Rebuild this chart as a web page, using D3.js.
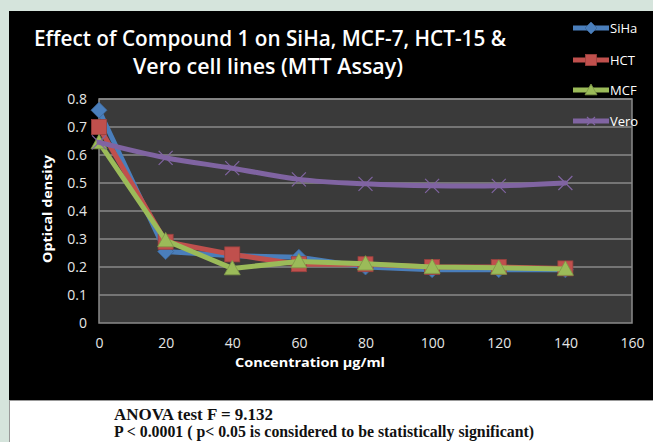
<!DOCTYPE html>
<html>
<head>
<meta charset="utf-8">
<script src="https://cdn.jsdelivr.net/npm/d3@7"></script>
<style>
  body { margin: 0; background: #d5e4dc; }
  svg { display: block; }
</style>
</head>
<body>
<div id="chart"></div>
<script>
// concentrations (µg/ml)
var conc = [0, 20, 40, 60, 80, 100, 120, 140];
var siha = [0.76, 0.255, 0.24, 0.235, 0.2, 0.19, 0.19, 0.19];
var hct  = [0.70, 0.29, 0.245, 0.21, 0.21, 0.2, 0.2, 0.195];
var mcf  = [0.645, 0.295, 0.195, 0.22, 0.212, 0.2, 0.197, 0.193];
var vero = [0.645, 0.59, 0.553, 0.513, 0.497, 0.49, 0.49, 0.5];
var xTicks = [0, 20, 40, 60, 80, 100, 120, 140, 160];
var yTicks = [0, 0.1, 0.2, 0.3, 0.4, 0.5, 0.6, 0.7, 0.8];

var series = [
  {name: "SiHa", values: siha, color: "#4a7ebb", marker: "diamond"},
  {name: "HCT", values: hct, color: "#c0504d", marker: "square"},
  {name: "MCF", values: mcf, color: "#9bbb59", marker: "triangle"},
  {name: "Vero", values: vero, color: "#8064a2", marker: "cross", smooth: true}
];

var W = 653, H = 442;
var svg = d3.select("#chart").append("svg").attr("width", W).attr("height", H);

svg.append("rect").attr("width", W).attr("height", H).attr("fill", "#d5e4dc");
svg.append("rect").attr("x", 9).attr("y", 11).attr("width", W - 9).attr("height", 389).attr("fill", "#000");
svg.append("rect").attr("x", 9.5).attr("y", 400.5).attr("width", W - 9).attr("height", 42)
  .attr("fill", "#fff").attr("stroke", "#999").attr("stroke-width", 1);

var x = d3.scaleLinear().domain([0, 160]).range([99, 632]);
var y = d3.scaleLinear().domain([0, 0.8]).range([323, 99]);

// plot area
svg.append("rect").attr("x", x(0)).attr("y", y(0.8))
  .attr("width", x(160) - x(0)).attr("height", y(0) - y(0.8))
  .attr("fill", "#3a3a3a").attr("stroke", "#8a8a8a").attr("stroke-width", 1.5);

svg.append("g").selectAll("line").data(yTicks.slice(1)).join("line")
  .attr("x1", x(0)).attr("x2", x(160))
  .attr("y1", function(d){ return y(d); }).attr("y2", function(d){ return y(d); })
  .attr("stroke", "#8a8a8a").attr("stroke-width", 1.5);

// axes (labels only, Excel style)
var yAxis = svg.append("g").attr("transform", "translate(" + x(0) + ",0)")
  .call(d3.axisLeft(y).tickValues(yTicks).tickSize(0).tickPadding(12).tickFormat(d3.format("")));
var xAxis = svg.append("g").attr("transform", "translate(0," + y(0) + ")")
  .call(d3.axisBottom(x).tickValues(xTicks).tickSize(0).tickPadding(15));
[yAxis, xAxis].forEach(function(a){
  a.select(".domain").remove();
  a.selectAll("text").attr("fill", "#e6e6e6").style("font-family", "'Open Sans', sans-serif").style("font-size", "14px");
});

// title
var title = svg.append("g").attr("fill", "#fff")
  .style("font-family", "'Open Sans', sans-serif").style("font-size", "22px").style("font-weight", "600");
title.append("text").attr("x", 270).attr("y", 46).attr("text-anchor", "middle")
  .attr("textLength", 472).attr("lengthAdjust", "spacingAndGlyphs")
  .text("Effect of Compound  1 on SiHa, MCF-7, HCT-15 &");
title.append("text").attr("x", 268).attr("y", 74).attr("text-anchor", "middle")
  .attr("textLength", 270).attr("lengthAdjust", "spacingAndGlyphs")
  .text("Vero cell lines (MTT Assay)");

// axis titles
svg.append("text").attr("transform", "translate(52,209) rotate(-90)")
  .attr("text-anchor", "middle").attr("fill", "#fff")
  .style("font-family", "'Open Sans', sans-serif").style("font-size", "13px").style("font-weight", "bold")
  .attr("textLength", 108).attr("lengthAdjust", "spacingAndGlyphs")
  .text("Optical density");
svg.append("text").attr("x", 310).attr("y", 367).attr("text-anchor", "middle").attr("fill", "#fff")
  .style("font-family", "'Open Sans', sans-serif").style("font-size", "13px").style("font-weight", "bold")
  .attr("textLength", 150).attr("lengthAdjust", "spacingAndGlyphs")
  .text("Concentration µg/ml");

function drawMarker(g, type, color, size) {
  var s = size / 2;
  if (type == "diamond") {
    g.append("path").attr("d", "M0," + (-s) + "L" + s + ",0L0," + s + "L" + (-s) + ",0Z")
      .attr("fill", color).attr("stroke", d3.color(color).darker(0.6)).attr("stroke-width", 0.8);
  } else if (type == "square") {
    g.append("rect").attr("x", -s + 0.5).attr("y", -s + 0.5).attr("width", size - 1).attr("height", size - 1)
      .attr("fill", color).attr("stroke", d3.color(color).darker(0.6)).attr("stroke-width", 0.8);
  } else if (type == "triangle") {
    g.append("path").attr("d", "M0," + (-s) + "L" + s + "," + (s * 0.8) + "L" + (-s) + "," + (s * 0.8) + "Z")
      .attr("fill", color).attr("stroke", d3.color(color).darker(0.6)).attr("stroke-width", 0.8);
  } else {
    g.append("path").attr("d", "M" + (-s) + "," + (-s) + "L" + s + "," + s + "M" + (-s) + "," + s + "L" + s + "," + (-s))
      .attr("stroke", color).attr("stroke-width", 1.2).attr("fill", "none");
  }
}

series.forEach(function(sr) {
  var pts = conc.map(function(c, i){ return [c, sr.values[i]]; });
  var line = d3.line().x(function(d){ return x(d[0]); }).y(function(d){ return y(d[1]); })
    .curve(sr.smooth ? d3.curveCatmullRom.alpha(0.5) : d3.curveLinear);
  svg.append("path").datum(pts).attr("d", line)
    .attr("fill", "none").attr("stroke", sr.color).attr("stroke-width", 5)
    .attr("stroke-linejoin", "round").attr("stroke-linecap", "round");
  pts.forEach(function(p) {
    var g = svg.append("g").attr("transform", "translate(" + x(p[0]) + "," + y(p[1]) + ")");
    drawMarker(g, sr.marker, sr.color, sr.marker == "cross" ? 14 : 16);
  });
});

// legend
var legendY = [28, 60, 90, 121];
series.forEach(function(sr, i) {
  var ly = legendY[i];
  svg.append("line").attr("x1", 573).attr("x2", 609).attr("y1", ly).attr("y2", ly)
    .attr("stroke", sr.color).attr("stroke-width", 5);
  var g = svg.append("g").attr("transform", "translate(591," + ly + ")");
  drawMarker(g, sr.marker, sr.color, sr.marker == "cross" ? 8 : 12);
  svg.append("text").attr("x", 610).attr("y", ly + 5).attr("fill", "#fff")
    .style("font-family", "'Open Sans', sans-serif").style("font-size", "13px")
    .text(sr.name);
});

// footnote
var foot = svg.append("g").attr("fill", "#111")
  .style("font-family", "'Liberation Serif', 'Times New Roman', serif").style("font-size", "16px").style("font-weight", "bold");
foot.append("text").attr("x", 114).attr("y", 420)
  .attr("textLength", 159).attr("lengthAdjust", "spacingAndGlyphs")
  .text("ANOVA test F = 9.132");
foot.append("text").attr("x", 114).attr("y", 437)
  .attr("textLength", 420).attr("lengthAdjust", "spacingAndGlyphs")
  .text("P < 0.0001 ( p< 0.05 is considered to be statistically significant)");
</script>
</body>
</html>
